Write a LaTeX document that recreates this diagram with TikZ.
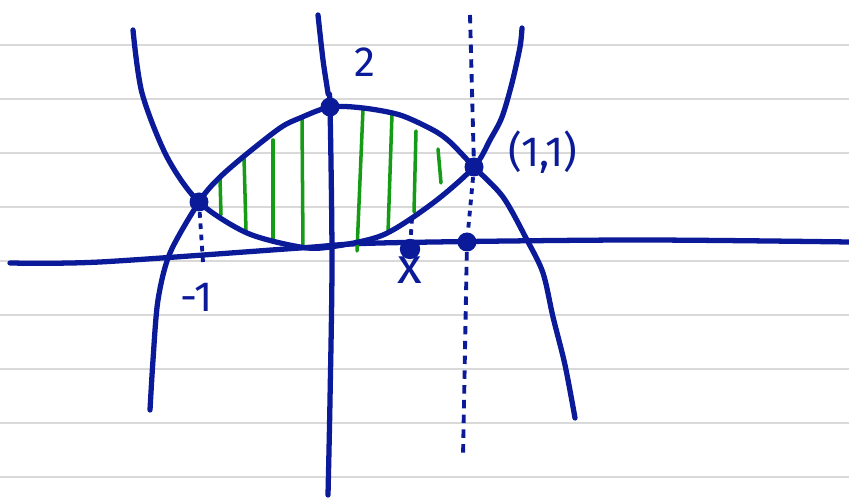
\documentclass[tikz,border=0pt]{standalone}
\usepackage{fontspec}
\setsansfont{Fira Sans}
\usepackage{xcolor}
\usepackage{tikz}
\definecolor{ink}{HTML}{0B1A98}
\definecolor{leaf}{HTML}{159B15}
\definecolor{ruling}{HTML}{D9D9D9}
\begin{document}
\begin{tikzpicture}[x=0.01cm, y=-0.01cm,
  curve/.style={draw=ink, line width=1.5pt, line cap=round, line join=round},
  hatch/.style={draw=leaf, line width=1pt, line cap=round},
  guide/.style={draw=ink, line width=1.1pt, dash pattern=on 2.4pt off 1.8pt},
  dotted guide/.style={draw=ink, line width=1.1pt, dash pattern=on 1.6pt off 1.6pt},
  dot/.style={circle, fill=ink, inner sep=0pt, minimum size=5.4pt},
  lbl/.style={text=ink, font=\sffamily\large}
]
  \useasboundingbox (0,0) rectangle (849,498);
  \fill[white] (0,0) rectangle (849,498);
  % ruled paper
  \foreach \y in {45,99,...,477}
    \draw[ruling, line width=0.7pt] (0,\y) -- (849,\y);

  % axes
  \draw[curve] plot[smooth] coordinates {(10,263) (100,262) (300,248) (380,243) (630,240) (849,242)};
  \draw[curve] plot[smooth] coordinates {(318,15) (323,60) (328,93) (330,107) (332,260) (330,400) (328,495)};

  % points
  \node[dot] (top) at (330,107) {};
  \node[dot] (left) at (199,202) {};
  \node[dot] (right) at (474,167) {};
  \node[dot, minimum size=5.8pt] (xdot) at (410,249) {};
  \node[dot] (one) at (467,242) {};

  % shaded strip
  \foreach \xa/\ya/\xb/\yb in {220/178/221/215, 244/157/246/231, 273/140/273/240, 302/118/303/247,
                               363/109/357/251, 392/114/388/233, 416/131/414/212, 438/149/441/183}
    \draw[hatch] (\xa,\ya) -- (\xb,\yb);

  % y = x^2
  \draw[curve] plot[smooth] coordinates {(133,30) (142,93) (167,157) (left) (247,233) (300,247)
    (330,247) (383,235) (433,203) (right) (490,140) (502,117) (512,83) (520,47) (522,28)};
  % y = 2 - x^2
  \draw[curve] plot[smooth] coordinates {(150,410) (153,360) (158,300) (170,253) (left) (217,180)
    (243,157) (280,128) (300,118) (top) (363,108) (400,115) (433,130) (450,142) (right)
    (503,197) (527,240) (543,273) (553,317) (565,365) (575,418)};

  % guides
  \coordinate (gtop) at (470,15);
  \coordinate (gbot) at (463,457);
  \coordinate (lfoot) at (203,262);
  \coordinate (xhead) at (412,218);
  \draw[guide] (gtop) -- (right);
  \draw[dotted guide] (right) -- (one);
  \draw[guide] (one) -- (gbot);
  \draw[dotted guide] (left) -- (lfoot);
  \draw[dotted guide] (xhead) -- (xdot);

  % labels
  \node[lbl] (ltwo) at (365,62) {2};
  \node[lbl] (lminus) at (197,297) {-1};
  \node[lbl, font=\sffamily\Large] (lx) at (410,270) {x};
  \node[lbl] (lpt) at (543,152) {(1,1)};
\end{tikzpicture}
\end{document}
